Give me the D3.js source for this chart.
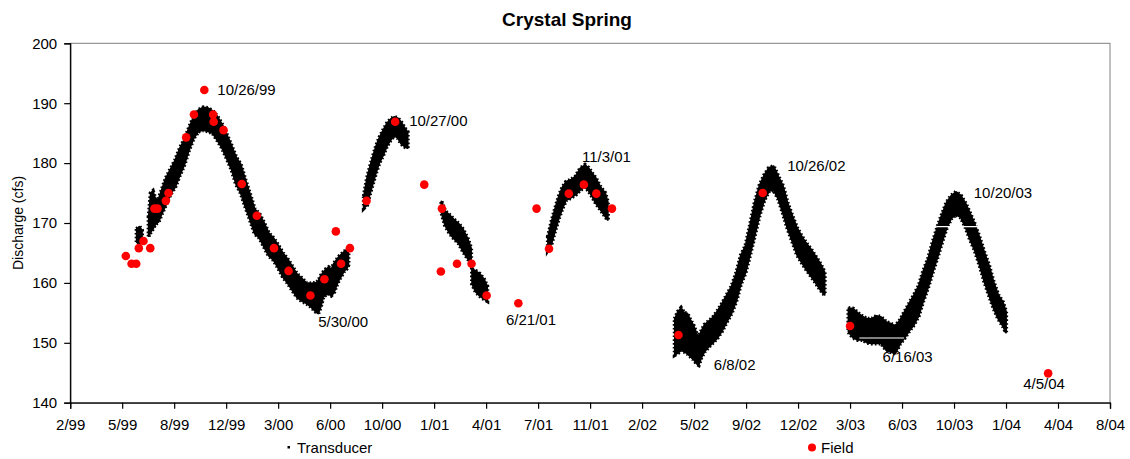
<!DOCTYPE html>
<html>
<head>
<meta charset="utf-8">
<script src="https://cdn.jsdelivr.net/npm/d3@7"></script>
<style>
  html, body { margin: 0; padding: 0; background: #fff; }
  svg { display: block; }
  text { font-family: "Liberation Sans", Arial, sans-serif; fill: #000; }
</style>
</head>
<body>
<svg id="chart" width="1130" height="459"></svg>
<script>
// ---- Transducer record: upper / lower envelope of the logged discharge (cfs).
// null entries separate the individual recording runs.
const transducerDates = [
  "1999-06-18","1999-06-23","1999-06-28", null,
  "1999-07-11","1999-07-15","1999-07-19","1999-07-24","1999-07-30","1999-08-05","1999-08-13","1999-08-22",
  "1999-08-31","1999-09-09","1999-09-18","1999-09-27","1999-10-06","1999-10-15","1999-10-24","1999-11-02",
  "1999-11-11","1999-11-20","1999-11-29","1999-12-08","1999-12-17","1999-12-26","2000-01-04","2000-01-13",
  "2000-01-22","2000-01-31","2000-02-09","2000-02-18","2000-02-27","2000-03-07","2000-03-16","2000-03-25",
  "2000-04-03","2000-04-12","2000-04-21","2000-04-30","2000-05-09","2000-05-18","2000-05-27","2000-06-01",
  "2000-06-06","2000-06-11","2000-06-16","2000-06-21","2000-06-26","2000-07-01","2000-07-06","2000-07-11",
  "2000-07-16","2000-07-21","2000-07-26","2000-07-29", null,
  "2000-08-28","2000-09-03","2000-09-09","2000-09-15","2000-09-21","2000-09-27","2000-10-04","2000-10-11",
  "2000-10-18","2000-10-25","2000-11-01","2000-11-08","2000-11-15","2000-11-20", null,
  "2001-01-24","2001-01-31","2001-02-08","2001-02-17","2001-02-26","2001-03-07","2001-03-16","2001-03-22", null,
  "2001-03-24","2001-03-31","2001-04-08","2001-04-16","2001-04-22", null,
  "2001-08-17","2001-08-24","2001-08-31","2001-09-07","2001-09-14","2001-09-21","2001-09-30","2001-10-09",
  "2001-10-18","2001-10-27","2001-11-03","2001-11-10","2001-11-17","2001-11-26","2001-12-05","2001-12-10", null,
  "2002-04-18","2002-04-24","2002-04-30","2002-05-06","2002-05-12","2002-05-18","2002-05-24","2002-05-30",
  "2002-06-03","2002-06-08","2002-06-14","2002-06-22","2002-06-30","2002-07-09","2002-07-18","2002-07-27",
  "2002-08-05","2002-08-14","2002-08-23","2002-09-01","2002-09-10","2002-09-19","2002-09-28","2002-10-07",
  "2002-10-16","2002-10-25","2002-11-03","2002-11-12","2002-11-21","2002-11-30","2002-12-09","2002-12-18",
  "2002-12-27","2003-01-05","2003-01-14","2003-01-23","2003-01-31", null,
  "2003-03-18","2003-03-27","2003-04-05","2003-04-14","2003-04-23","2003-05-02","2003-05-11","2003-05-20",
  "2003-05-29","2003-06-07","2003-06-16","2003-06-25","2003-07-04","2003-07-13","2003-07-22","2003-07-31",
  "2003-08-09","2003-08-18","2003-08-27","2003-09-05","2003-09-14","2003-09-23","2003-10-02","2003-10-11",
  "2003-10-20","2003-10-29","2003-11-07","2003-11-16","2003-11-25","2003-12-04","2003-12-13","2003-12-22",
  "2003-12-31","2004-01-09","2004-01-15"
];
const transducerHigh = [
  169.0,169.4,168.8, null,
  171.0,175.0,175.3,174.0,174.0,175.5,177.5,179.0,
  180.5,182.5,184.0,186.0,187.8,188.9,189.3,189.2,
  188.7,187.8,186.5,184.8,183.0,181.0,179.8,177.2,
  174.8,172.3,171.5,170.0,168.3,167.5,166.3,165.0,
  164.0,162.8,161.5,160.8,160.0,159.9,160.0,160.3,
  161.2,161.8,162.3,162.6,162.2,163.2,163.8,164.4,
  164.8,165.2,165.6,165.0, null,
  174.5,177.5,179.5,181.3,183.0,184.3,185.5,186.6,
  187.3,187.7,187.5,186.8,185.8,185.2, null,
  173.6,172.0,171.4,170.6,169.9,168.9,167.3,165.8, null,
  162.3,162.0,161.5,160.6,159.5, null,
  167.7,170.3,172.5,174.5,176.0,176.9,177.2,177.8,
  179.1,179.7,179.2,178.3,177.5,176.0,175.0,173.5, null,
  154.0,155.2,155.8,155.0,154.9,153.8,152.9,151.5,
  151.0,152.0,153.0,153.6,154.2,155.3,156.6,158.0,
  159.4,161.6,164.6,166.2,169.8,173.5,176.3,178.0,
  179.2,179.5,177.8,176.2,173.3,171.2,169.2,167.8,
  166.6,165.6,164.4,163.2,161.8, null,
  155.8,155.7,155.0,154.4,154.0,154.0,154.5,154.3,
  153.5,153.2,152.8,153.8,155.2,156.6,158.0,159.5,
  162.0,164.0,166.8,169.3,171.5,173.5,174.6,175.2,
  174.6,173.3,171.6,169.8,167.6,165.2,163.0,160.2,
  158.0,156.8,155.2
];
const transducerLow = [
  166.8,166.4,167.2, null,
  167.8,168.5,169.0,169.8,170.2,171.5,173.0,174.8,
  176.0,178.0,179.8,182.3,184.2,185.3,185.5,185.3,
  185.0,183.8,182.5,180.8,179.0,176.5,175.0,172.7,
  170.5,168.2,167.5,166.0,164.5,163.8,162.5,161.0,
  160.0,158.8,157.6,157.0,156.6,156.0,155.2,154.9,
  156.0,157.7,158.0,158.2,157.9,158.3,159.5,160.5,
  161.2,162.0,162.4,163.0, null,
  172.5,173.0,175.0,176.8,178.6,180.1,181.3,182.8,
  183.8,184.6,184.2,183.2,182.7,182.5, null,
  171.8,169.6,168.4,167.4,166.6,165.2,164.0,163.2, null,
  159.8,158.5,157.8,157.3,157.0, null,
  165.6,166.6,168.8,170.8,172.5,173.8,174.2,174.7,
  175.5,176.0,175.4,174.4,173.3,172.2,171.1,170.5, null,
  148.0,148.3,148.8,148.5,148.2,147.7,147.2,146.5,
  146.3,147.5,148.5,149.3,150.0,150.8,152.0,153.5,
  154.9,156.9,159.8,161.7,164.8,168.0,171.3,173.8,
  175.3,175.5,174.0,171.6,169.0,166.9,164.7,163.4,
  162.2,161.1,160.0,158.8,158.0, null,
  151.8,150.8,150.5,150.5,150.0,149.9,149.9,149.9,
  148.8,148.5,148.2,149.8,150.8,152.0,153.0,154.5,
  157.0,159.2,161.8,164.2,166.8,169.2,170.8,171.4,
  170.9,169.3,167.2,165.4,163.0,160.3,158.0,155.8,
  154.0,152.8,151.7
];

// Levels the logger never reported during the 2003 run (show as thin white streaks)
const missingLevelValues = [150.8, 169.4];
const missingLevelFrom   = ["2003-04-08", "2003-09-03"];
const missingLevelTo     = ["2003-07-03", "2003-11-22"];

// ---- Field measurements (cfs)
const fieldDates = [
  "1999-05-28","1999-06-08","1999-06-17","1999-06-22","1999-07-01","1999-07-14","1999-07-22","1999-07-28",
  "1999-08-13","1999-08-18","1999-09-21","1999-10-06","1999-10-26","1999-11-12","1999-11-13","1999-12-02",
  "2000-01-06","2000-02-04","2000-03-08","2000-04-05","2000-05-17","2000-06-13","2000-07-05","2000-07-15",
  "2000-08-01","2000-09-02","2000-10-27","2000-12-22","2001-01-23","2001-01-25","2001-02-23","2001-03-23",
  "2001-04-21","2001-06-21","2001-07-26","2001-08-19","2001-09-26","2001-10-25","2001-11-18","2001-12-18",
  "2002-04-25","2002-10-04","2003-03-21","2004-04-05"
];
const fieldValues = [
  164.5,163.2,163.2,165.8,167.0,165.8,172.4,172.4,
  173.7,175.0,184.3,188.1,192.2,188.1,186.9,185.5,
  176.5,171.2,165.8,162.0,157.9,160.6,168.6,163.2,
  165.8,173.7,186.9,176.4,161.9,172.4,163.2,163.2,
  157.9,156.6,172.4,165.7,174.9,176.4,174.9,172.4,
  151.3,175.0,152.8,144.9
];

// ---- Annotated dates and the discharge each note refers to
const noteLabels = ["10/26/99","5/30/00","10/27/00","6/21/01","11/3/01","6/8/02","10/26/02","6/16/03","10/20/03","4/5/04"];
const noteValues = [192.2, 155.0, 186.9, 156.6, 179.7, 146.3, 179.5, 148.2, 175.0, 144.9];

// ---- Axes
const xDomain = ["1999-02-10", "2004-08-02"];
const xTickDates = [
  "1999-02-10","1999-05-21","1999-08-29","1999-12-07","2000-03-16","2000-06-24","2000-10-02",
  "2001-01-10","2001-04-20","2001-07-29","2001-11-06","2002-02-14","2002-05-25","2002-09-02",
  "2002-12-11","2003-03-21","2003-06-29","2003-10-07","2004-01-15","2004-04-24","2004-08-02"
];
const yDomain = [140, 200];
const yTicks = [140, 150, 160, 170, 180, 190, 200];

const chartTitle = "Crystal Spring";
const yTitle = "Discharge (cfs)";
const legendLabels = ["Transducer", "Field"];

// ---------------------------------------------------------------------------
const parse = d3.utcParse("%Y-%m-%d");
const fmt = d3.utcFormat("%-m/%y");
const noteParse = d3.utcParse("%-m/%-d/%y");

const plot = { left: 70.2, right: 1110, top: 43.3, bottom: 402.7 };

const svg = d3.select("#chart");

const x = d3.scaleUtc().domain(xDomain.map(parse)).range([plot.left, plot.right]);
const y = d3.scaleLinear().domain(yDomain).range([plot.bottom, plot.top]);

// plot frame (top and right edges in grey)
svg.append("rect")
  .attr("x", plot.left).attr("y", plot.top)
  .attr("width", plot.right - plot.left).attr("height", plot.bottom - plot.top)
  .attr("fill", "none").attr("stroke", "#808080").attr("stroke-width", 1);

// transducer band
const idx = d3.range(transducerDates.length);
const band = d3.area()
  .defined(i => transducerDates[i] != null)
  .x(i => x(parse(transducerDates[i])))
  .y0(i => y(transducerLow[i]))
  .y1(i => y(transducerHigh[i]))
  .curve(d3.curveLinear);

const bandPath = band(idx);
svg.append("path")
  .attr("d", bandPath)
  .attr("fill", "#000")
  .attr("stroke", "#000")
  .attr("stroke-width", 1.8)
  .attr("stroke-linejoin", "round");
// speckled rim, like the scattered individual readings along the edges
svg.append("path")
  .attr("d", bandPath)
  .attr("fill", "none")
  .attr("stroke", "#000")
  .attr("stroke-width", 4.2)
  .attr("stroke-dasharray", "1.6 2.2");

// white streaks where the record skips a level
svg.append("g").selectAll("line")
  .data(missingLevelValues)
  .join("line")
  .attr("x1", (v, i) => x(parse(missingLevelFrom[i])))
  .attr("x2", (v, i) => x(parse(missingLevelTo[i])))
  .attr("y1", v => y(v)).attr("y2", v => y(v))
  .attr("stroke", "#fff").attr("stroke-width", 1.2);

// field measurements
svg.append("g").selectAll("circle")
  .data(fieldDates)
  .join("circle")
  .attr("cx", d => x(parse(d)))
  .attr("cy", (d, i) => y(fieldValues[i]))
  .attr("r", 4.3)
  .attr("fill", "#ff0000");

// annotations: offsets (px) of each note from the point it names
const noteOffsets = [[13, 5], [1, 14.5], [14, 4.7], [-12.4, 22], [-6.6, -2.6], [12.5, 5.5], [13, 5], [-12.7, 8.3], [13, 5], [-25, 15.7]];
svg.append("g").selectAll("text")
  .data(noteLabels)
  .join("text")
  .attr("x", (d, i) => x(noteParse(d)) + noteOffsets[i][0])
  .attr("y", (d, i) => y(noteValues[i]) + noteOffsets[i][1])
  .attr("font-size", 15)
  .text(d => d);

// axes
const xAxis = d3.axisBottom(x)
  .tickValues(xTickDates.map(parse))
  .tickFormat(fmt)
  .tickSize(6).tickPadding(10.5);
const gx = svg.append("g").attr("transform", `translate(0,${plot.bottom})`).call(xAxis);
gx.selectAll("text").attr("font-size", 15).attr("font-family", "Liberation Sans, Arial, sans-serif");

const yAxis = d3.axisLeft(y).tickValues(yTicks).tickSize(6).tickPadding(7);
const gy = svg.append("g").attr("transform", `translate(${plot.left},0)`).call(yAxis);
gy.selectAll("text").attr("font-size", 15).attr("font-family", "Liberation Sans, Arial, sans-serif");

[gx, gy].forEach(g => {
  g.select(".domain").attr("stroke", "#000").attr("stroke-width", 1.3);
  g.selectAll(".tick line").attr("stroke", "#000").attr("stroke-width", 1.2);
});

// titles
svg.append("text")
  .attr("x", 567).attr("y", 25.5)
  .attr("text-anchor", "middle")
  .attr("font-size", 19).attr("font-weight", "bold")
  .text(chartTitle);

svg.append("text")
  .attr("transform", `translate(23,${(plot.top + plot.bottom) / 2}) rotate(-90)`)
  .attr("text-anchor", "middle")
  .attr("font-size", 14)
  .text(yTitle);

// legend
const legend = svg.append("g");
legend.append("rect").attr("x", 287.5).attr("y", 446).attr("width", 2.5).attr("height", 2.5).attr("fill", "#000");
legend.append("text").attr("x", 297).attr("y", 453).attr("font-size", 15).text(legendLabels[0]);
legend.append("circle").attr("cx", 812).attr("cy", 447.5).attr("r", 4).attr("fill", "#ff0000");
legend.append("text").attr("x", 821).attr("y", 453).attr("font-size", 15).text(legendLabels[1]);
</script>
</body>
</html>
